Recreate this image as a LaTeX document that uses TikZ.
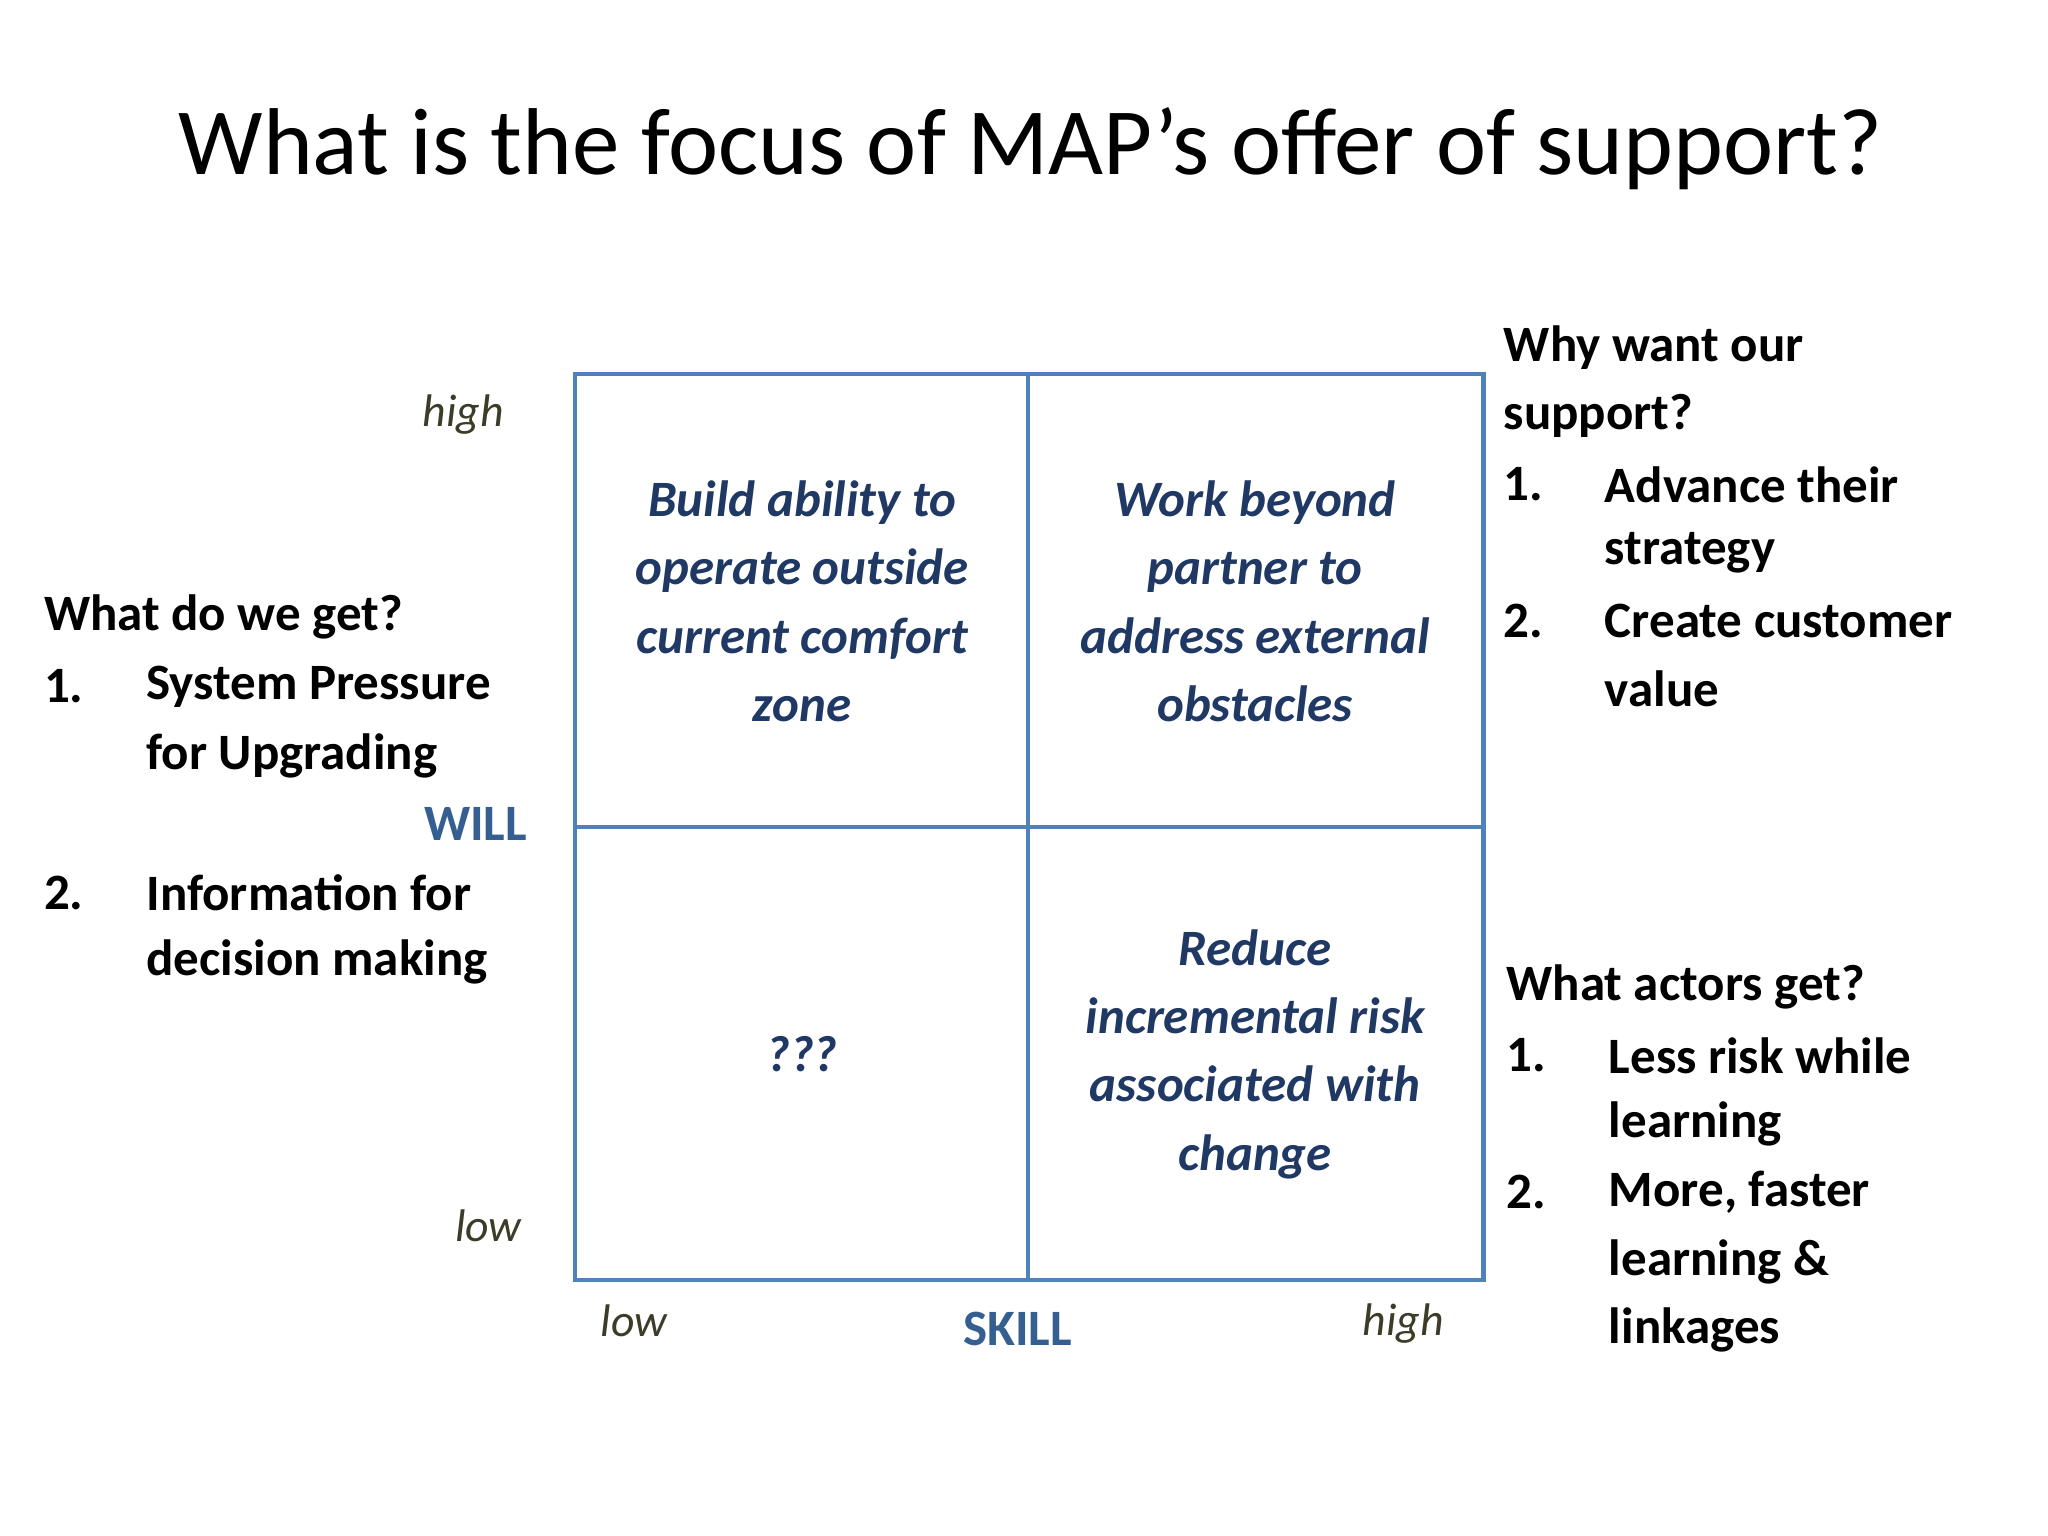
\documentclass[tikz,border=0pt]{standalone}
\usepackage{fontspec}
\setmainfont{Carlito}
\definecolor{gridc}{RGB}{79,129,189}
\definecolor{celltxt}{RGB}{31,56,100}
\definecolor{axtxt}{RGB}{60,60,40}
\definecolor{axlab}{RGB}{54,95,145}
\begin{document}
\begin{tikzpicture}[x=0.013128cm,y=-0.013128cm,
  body/.style={font=\fontsize{14.5}{19}\selectfont\bfseries,anchor=west,inner sep=0},
  cell/.style={font=\fontsize{14.5}{19.4}\selectfont\bfseries\itshape,text=celltxt,align=center,inner sep=0},
  ax/.style={font=\fontsize{13}{16}\selectfont\itshape,text=axtxt,inner sep=0},
  axl/.style={font=\fontsize{14.5}{18}\selectfont\bfseries,text=axlab,inner sep=0},
  gridl/.style={draw=gridc,line width=1.2pt}]
\useasboundingbox (0,0) rectangle (1560,1170);
\node[font=\fontsize{27}{32}\selectfont] (title) at (785,113) {What is the focus of MAP’s offer of support?};
% grid
\coordinate (g1) at (438,285); \coordinate (g2) at (1130,975);
\coordinate (mt) at (783,285); \coordinate (mb) at (783,975);
\coordinate (ml) at (438,630); \coordinate (mr) at (1130,630);
\draw[gridl] (g1) rectangle (g2);
\draw[gridl] (mt) -- (mb);
\draw[gridl] (ml) -- (mr);
% cells
\node[cell] (tl) at (611,458) {Build ability to\\operate outside\\current comfort\\zone};
\node[cell] (tr) at (956,458) {Work beyond\\partner to\\address external\\obstacles};
\node[cell] (bl) at (611,803) {???};
\node[cell] (br) at (956,803) {Reduce\\incremental risk\\associated with\\change};
% axes
\node[ax] (wh) at (353,316) {high};
\node[ax] (wl) at (372,934) {low};
\node[ax] (sl) at (483,1006) {low};
\node[ax] (sh) at (1069,1008) {high};
\node[axl] (skill) at (775,1012) {SKILL};
\node[axl,anchor=east] (will) at (402,628) {WILL};
% left
\node[body] (l0) at (33,470) {What do we get?};
\node[body] (l1n) at (33,523) {1.};
\node[body] (l1a) at (111,523) {System Pressure};
\node[body] (l1b) at (111,576) {for Upgrading};
\node[body] (l2n) at (33,680) {2.};
\node[body] (l2a) at (111,680) {Information for};
\node[body] (l2b) at (111,733) {decision making};
% right top
\node[body] (r0a) at (1145,265) {Why want our};
\node[body] (r0b) at (1145,317) {support?};
\node[body] (r1n) at (1145,369) {1.};
\node[body] (r1a) at (1222,369) {Advance their};
\node[body] (r1b) at (1222,421) {strategy};
\node[body] (r2n) at (1145,473) {2.};
\node[body] (r2a) at (1222,473) {Create customer};
\node[body] (r2b) at (1222,525) {value};
% right bottom
\node[body] (s0) at (1147,752) {What actors get?};
\node[body] (s1n) at (1147,804) {1.};
\node[body] (s1a) at (1225,804) {Less risk while};
\node[body] (s1b) at (1225,856) {learning};
\node[body] (s2n) at (1147,908) {2.};
\node[body] (s2a) at (1225,908) {More, faster};
\node[body] (s2b) at (1225,961) {learning \&};
\node[body] (s2c) at (1225,1013) {linkages};
\end{tikzpicture}
\end{document}
